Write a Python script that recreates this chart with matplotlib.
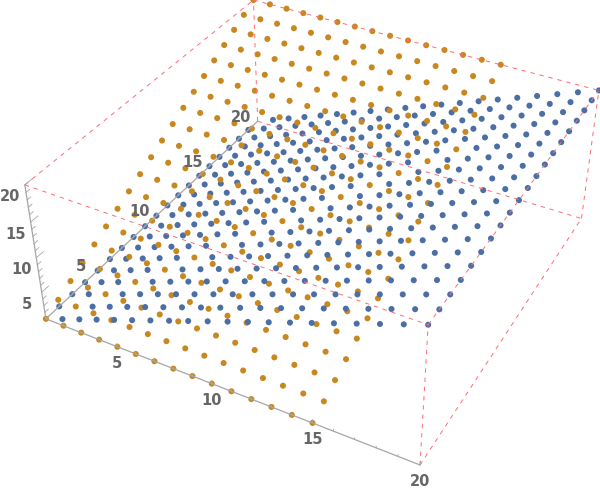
import matplotlib
matplotlib.use("Agg")
import matplotlib.pyplot as plt
from mpl_toolkits.mplot3d import proj3d

x_values = [1, 2, 3, 4, 5, 6, 7, 8, 9, 10, 11, 12, 13, 14, 15, 16, 17, 18, 19, 20]
y_values = [1, 2, 3, 4, 5, 6, 7, 8, 9, 10, 11, 12, 13, 14, 15, 16, 17, 18, 19, 20]
# blue sheet height for each x, orange sheet height for each y
blue_heights = [1, 2, 3, 4, 5, 6, 7, 8, 9, 10, 11, 12, 13, 14, 15, 16, 17, 18, 19, 20]
orange_heights = [1, 2, 3, 4, 5, 6, 7, 8, 9, 10, 11, 12, 13, 14, 15, 16, 17, 18, 19, 20]
orange_x_values = [1, 2, 3, 4, 5, 6, 7, 8, 9, 10, 11, 12, 13, 14, 15]
blue_missing = (1, 20)
tick_labels = [5, 10, 15, 20]

BLUE = "#4b6fa5"
ORANGE = "#c9881f"
RED = "#ff6b75"
GRAY = "#a6a6a6"

fig = plt.figure(figsize=(6, 4.91), dpi=100)
ax = fig.add_axes([0, 0, 1, 1], projection="3d", computed_zorder=False)
ax.set_axis_off()
ax.set_xlim(1, 20, view_margin=0)
ax.set_ylim(1, 20, view_margin=0)
ax.set_zlim(1, 20, view_margin=0)

# camera fitted to the box corners of the reference
ax.view_init(36.1658, -61.5939, -0.0206)
ax.set_proj_type("persp", focal_length=0.44)
ax.set_box_aspect((1, 1.0028, 0.3979), zoom=1)

scale, cx, cy = 3145.4375, 326.1947, 203.0481
w = scale * (ax.viewLim.x1 - ax.viewLim.x0)
h = scale * (ax.viewLim.y1 - ax.viewLim.y0)
left = cx + scale * ax.viewLim.x0
bottom = 491 - cy + scale * ax.viewLim.y0
ax.set_position([left / 600, bottom / 491, w / 600, h / 491])

xs, ys, zs, cols = [], [], [], []
orange_points = set()
for xi in orange_x_values:
    for yi, height in zip(y_values, orange_heights):
        xs.append(xi); ys.append(yi); zs.append(height); cols.append(ORANGE)
        orange_points.add((xi, yi, height))
for xi, height in zip(x_values, blue_heights):
    for yi in y_values:
        # blue points sitting exactly under an orange one never show
        if (xi, yi) == blue_missing or (xi, yi, height) in orange_points:
            continue
        xs.append(xi); ys.append(yi); zs.append(height); cols.append(BLUE)
# one collection so the two sheets sort by depth together
ax.scatter(xs, ys, zs, c=cols, s=19, depthshade=False, linewidths=0, zorder=2, clip_on=False)

lo, hi = x_values[0], x_values[-1]
edges = []
for a in (lo, hi):
    for b in (lo, hi):
        edges.append(((lo, a, b), (hi, a, b)))
        edges.append(((a, lo, b), (a, hi, b)))
        edges.append(((a, b, lo), (a, b, hi)))
origin = (lo, lo, lo)
for e0, e1 in edges:
    if e0 == origin:
        ax.plot(*zip(e0, e1), color=GRAY, lw=0.9, zorder=4, clip_on=False)
    else:
        ax.plot(*zip(e0, e1), color=RED, lw=0.7, dashes=(4.5, 5), zorder=3, clip_on=False)

# ticks every unit, longer on the labelled ones
for v in x_values:
    ln = 0.5 if v in tick_labels else 0.25
    ax.plot([v, v], [lo, lo], [lo, lo + ln], color=GRAY, lw=0.6, zorder=4, clip_on=False)
    ax.plot([lo, lo], [v, v], [lo, lo + ln], color=GRAY, lw=0.6, zorder=4, clip_on=False)
    ax.plot([lo, lo], [lo, lo + ln], [v, v], color=GRAY, lw=0.6, zorder=4, clip_on=False)


def label(v, pos, dx, dy):
    x2, y2, _ = proj3d.proj_transform(pos[0], pos[1], pos[2], ax.get_proj())
    ax.annotate(str(v), (x2, y2), xytext=(dx, dy), textcoords="offset pixels", ha="center", va="center",
                fontsize=10.5, fontweight="bold", color="#666666", annotation_clip=False)


for v in tick_labels:
    label(v, (v, lo, lo), 0, -17)
    label(v, (lo, v, lo), -17, 4)
    label(v, (lo, lo, v), -15, -12)

fig.savefig("out.png", dpi=100)
